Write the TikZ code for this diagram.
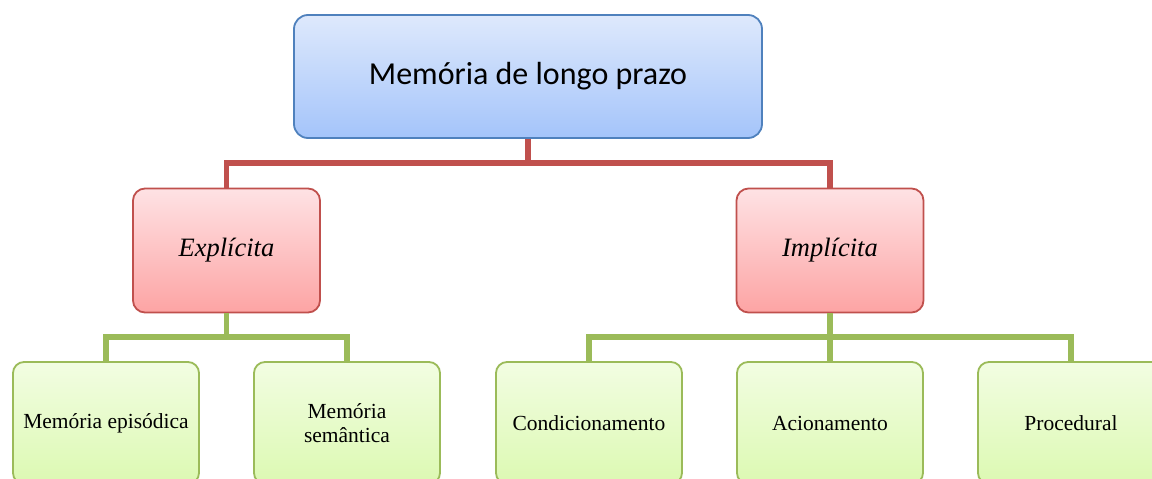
\documentclass[tikz,border=0pt]{standalone}
\usepackage{fontspec}
\setmainfont{Liberation Serif}
\newfontfamily\calib{Carlito}
\begin{document}
\begin{tikzpicture}[x=1pt,y=-1pt,
  topbox/.style={draw={rgb,255:red,79;green,129;blue,189}, line width=1.8pt, rounded corners=14pt,
    top color={rgb,255:red,222;green,233;blue,252}, bottom color={rgb,255:red,164;green,196;blue,250},
    minimum width=468pt, minimum height=123pt, inner sep=0pt, font=\calib\fontsize{32}{36}\selectfont},
  midbox/.style={draw={rgb,255:red,192;green,80;blue,77}, line width=1.8pt, rounded corners=12pt,
    top color={rgb,255:red,254;green,226;blue,228}, bottom color={rgb,255:red,253;green,164;blue,164},
    minimum width=187pt, minimum height=124pt, inner sep=0pt, font=\itshape\fontsize{26.5}{30}\selectfont},
  leafbox/.style={draw={rgb,255:red,155;green,187;blue,89}, line width=1.8pt, rounded corners=11pt,
    top color={rgb,255:red,242;green,253;blue,226}, bottom color={rgb,255:red,220;green,249;blue,178},
    minimum width=186pt, minimum height=122pt, inner sep=0pt, align=center, font=\fontsize{21.5}{23.5}\selectfont},
  redline/.style={draw={rgb,255:red,192;green,80;blue,77}, line width=5.5pt},
  greenline/.style={draw={rgb,255:red,155;green,187;blue,89}, line width=5.5pt}]
\useasboundingbox (0,0) rectangle (1152,479);
\clip (0,0) rectangle (1152,479);
\fill[white] (0,0) rectangle (1152,479);
\node[topbox] (top) at (528,76.5) {Memória de longo prazo};
\node[midbox] (expl) at (226.5,250.5) {Explícita};
\node[midbox] (impl) at (830,250.5) {Implícita};
\node[leafbox] (l1) at (106,423) {Memória episódica};
\node[leafbox] (l2) at (347,423) {Memória\\semântica};
\node[leafbox] (l3) at (589,423) {Condicionamento};
\node[leafbox] (l4) at (830,423) {Acionamento};
\node[leafbox] (l5) at (1071,423) {Procedural};
\coordinate (rj) at (528,163);
\coordinate (gj1) at (226.5,337);
\coordinate (gj2) at (830,337);
\draw[redline] (top.south) -- (rj) -| (expl.north);
\draw[redline] (rj) -| (impl.north);
\draw[greenline] (expl.south) -- (gj1) -| (l1.north);
\draw[greenline] (gj1) -| (l2.north);
\draw[greenline] (impl.south) -- (gj2) -| (l3.north);
\draw[greenline] (gj2) -| (l5.north);
\draw[greenline] (gj2) -- (l4.north);
\end{tikzpicture}
\end{document}
